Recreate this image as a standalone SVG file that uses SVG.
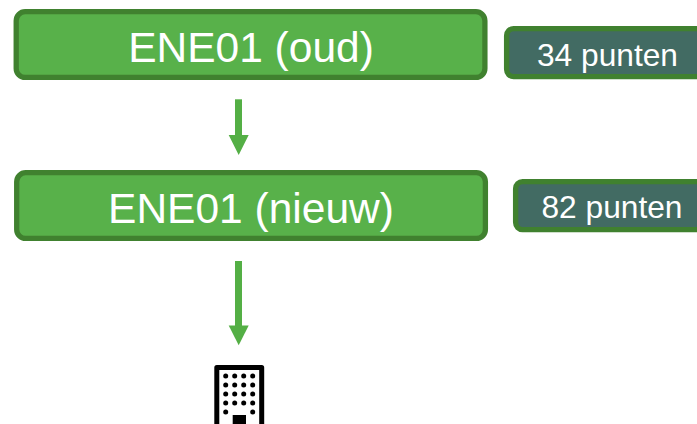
<svg xmlns="http://www.w3.org/2000/svg" width="697" height="424" viewBox="0 0 697 424">
<style>
.main{fill:#58b14a;stroke:#40812f;stroke-width:5.300}
.sub{fill:#426b63;stroke:#40812f;stroke-width:5.300}
text{font-family:"Liberation Sans",Arial,sans-serif;fill:#fff;text-anchor:middle}
.t1{font-size:42.500px}
.t2{font-size:31.700px}
.c{fill:#54af45}
.d{fill:#000}
</style>
<rect width="697" height="424" fill="#fff"/>
<g id="connectors">
<rect class="c" x="235" y="99.300" width="7" height="36"/><path class="c" d="M228.700 135H248.700L238.700 155Z"/>
<rect class="c" x="235" y="261" width="7" height="65"/><path class="c" d="M228.700 325.500H248.700L238.700 345.300Z"/>
</g>
<g id="node-oud"><rect class="main" x="16.200" y="11.700" width="468.700" height="65.700" rx="9"/><text class="t1" x="251" y="62">ENE01 (oud)</text></g>
<g id="node-nieuw"><rect class="main" x="16.700" y="172.700" width="468.700" height="65.700" rx="9"/><text class="t1" x="251" y="222.500">ENE01 (nieuw)</text></g>
<g id="node-34"><rect class="sub" x="506.600" y="28.600" width="200" height="48" rx="7"/><text class="t2" x="607.500" y="66">34 punten</text></g>
<g id="node-82"><rect class="sub" x="515.600" y="181.600" width="200" height="48" rx="7"/><text class="t2" x="612" y="217.500">82 punten</text></g>
<g id="building">
<path d="M216.800 430V367.500H261.700V430" fill="#fff" stroke="#000" stroke-width="5" stroke-linejoin="round"/>
<g class="d">
<circle cx="225.700" cy="376" r="2.500"/><circle cx="234.700" cy="376" r="2.500"/><circle cx="243.700" cy="376" r="2.500"/><circle cx="252.700" cy="376" r="2.500"/>
<circle cx="225.700" cy="385" r="2.500"/><circle cx="234.700" cy="385" r="2.500"/><circle cx="243.700" cy="385" r="2.500"/><circle cx="252.700" cy="385" r="2.500"/>
<circle cx="225.700" cy="394" r="2.500"/><circle cx="234.700" cy="394" r="2.500"/><circle cx="243.700" cy="394" r="2.500"/><circle cx="252.700" cy="394" r="2.500"/>
<circle cx="225.700" cy="403" r="2.500"/><circle cx="234.700" cy="403" r="2.500"/><circle cx="243.700" cy="403" r="2.500"/><circle cx="252.700" cy="403" r="2.500"/>
<circle cx="225.700" cy="412" r="2.500"/><circle cx="252.700" cy="412" r="2.500"/>
<rect x="232.700" y="415" width="13.300" height="9"/>
</g>
</g>
</svg>
